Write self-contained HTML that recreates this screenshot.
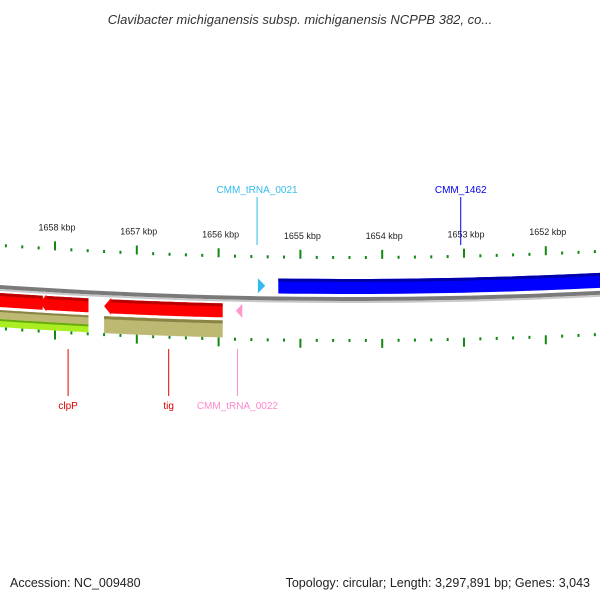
<!DOCTYPE html>
<html><head><meta charset="utf-8"><style>
body{margin:0;background:#fff;width:600px;height:600px;overflow:hidden}
svg{display:block;font-family:"Liberation Sans",sans-serif}
</style></head><body>
<svg id="map" width="600" height="600" viewBox="0 0 600 600">
<text x="300" y="24" text-anchor="middle" font-size="13" font-style="italic" fill="#333">Clavibacter michiganensis subsp. michiganensis NCPPB 382, co...</text>
<text x="10" y="587" font-size="12.5" fill="#222">Accession: NC_009480</text>
<text x="590" y="587" text-anchor="end" font-size="12.5" fill="#222">Topology: circular; Length: 3,297,891 bp; Genes: 3,043</text>
</svg>
<script>
// data
const tickKbp=[1659,1658,1657,1656,1655,1654,1653,1652,1651];
const tickLabels=["1659 kbp","1658 kbp","1657 kbp","1656 kbp","1655 kbp","1654 kbp","1653 kbp","1652 kbp","1651 kbp"];
const geneNames=["CMM_1462","CMM_tRNA_0021","CMM_tRNA_0022","tig","clpP","gene-left"];
const geneStart=[1655.27,1655.52,1655.79,1657.40,1658.19,1659.2];
const geneEnd=[1649.5,1655.43,1655.71,1655.95,1657.59,1658.15];
const geneStrand=[1,1,-1,-1,-1,-1];
const geneColor=["#0000ff","#33bbee","#ff99cc","#ff0000","#ff0000","#ff0000"];
const geneTop=["#0000aa","#1188bb","#ee77aa","#bb0000","#bb0000","#bb0000"];
const cdsStart=[1657.40,1658.19,1659.2];
const cdsEnd=[1655.95,1657.59,1658.15];
const cdsLime=[false,true,true];
const labelNames=["CMM_tRNA_0021","CMM_1462","clpP","tig","CMM_tRNA_0022"];
const labelKbp=[1655.53,1653.04,1657.84,1656.61,1655.77];
const labelColor=["#33bbee","#0000ee","#dd0000","#dd0000","#ff88cc"];
const labelSide=[-1,-1,1,1,1];

const NS="http://www.w3.org/2000/svg",svg=document.getElementById('map');
const cx=350,R=5100,cy=299-R;
function px(k){return 55+(1658-k)*81.8;}
function pt(x,off){const r=R+off;return [x,cy+Math.sqrt(r*r-(x-cx)*(x-cx))];}
function band(x1,x2,o1,o2){let a=[],b=[];const n=30;for(let i=0;i<=n;i++){const x=x1+(x2-x1)*i/n;a.push(pt(x,o1));b.unshift(pt(x,o2));}return a.concat(b);}
function poly(ps,fill,name){const p=document.createElementNS(NS,'polygon');p.setAttribute('points',ps.map(q=>q[0].toFixed(1)+','+q[1].toFixed(1)).join(' '));p.setAttribute('fill',fill);


svg.appendChild(p);return p;}
function line(x1,y1,x2,y2,c,w,name){const l=document.createElementNS(NS,'line');l.setAttribute('x1',x1);l.setAttribute('y1',y1);l.setAttribute('x2',x2);l.setAttribute('y2',y2);l.setAttribute('stroke',c);l.setAttribute('stroke-width',w);


svg.appendChild(l);}
function text(x,y,s,c,fs,name){const t=document.createElementNS(NS,'text');t.setAttribute('x',x);t.setAttribute('y',y);t.setAttribute('text-anchor','middle');t.setAttribute('font-size',fs);t.setAttribute('fill',c);t.textContent=s;


svg.appendChild(t);}

// backbone
poly(band(-20,620,-2,2),"#7a7a7a","backbone");
poly(band(-20,620,2,4),"#c8c8c8","backbone-shadow");

// ticks
tickKbp.forEach((k,i)=>{
  for(let m=0;m<5;m++){
    const x=px(k-m*0.2);if(x<-5||x>605)continue;
    const major=m===0;
    let a=pt(x,major?-49:-43),b=pt(x,-40);line(a[0],a[1],b[0],b[1],"#118811",2,major?"major-tick-outer":"minor-tick-outer");
    a=pt(x,40);b=pt(x,major?49:43);line(a[0],a[1],b[0],b[1],"#118811",2,major?"major-tick-inner":"minor-tick-inner");
  }
  const x=px(k);if(x>10&&x<590){const p=pt(x,-60);text(x+2,p[1],tickLabels[i],"#222",9,"tick-label");}
});

// CDS tracks (khaki / lime)
cdsStart.forEach((s,i)=>{
  const x1=px(s),x2=px(cdsEnd[i]);
  if(cdsLime[i]){poly(band(x1,x2,23,32),"#bdb872","cds-track");poly(band(x1,x2,23,25),"#8a8444","cds-edge");poly(band(x1,x2,32,40),"#aaee22","lime-track");poly(band(x1,x2,32,34),"#66aa11","lime-edge");}
  else{poly(band(x1,x2,23,40),"#bdb872","cds-track");poly(band(x1,x2,23,26),"#8a8444","cds-edge");}
});

// genes
geneStart.forEach((s,i)=>{
  const x1=px(s),x2=px(geneEnd[i]);const fwd=geneStrand[i]>0;
  const o1=fwd?-20:6,o2=fwd?-5:20,mid=(o1+o2)/2;const h=7;
  let body;
  if(x2-x1<12){ // small tRNA triangle
    const base=fwd?x1:x2,tip=fwd?x2:x1;
    poly([pt(base,o1),pt(tip,mid),pt(base,o2)],geneColor[i],"trna-"+geneNames[i]);return;
  }
  if(fwd){const a=band(x1,x2-h,o1,o2);poly(a,geneColor[i],"gene-"+geneNames[i]);poly(band(x1,x2-h,o1,o1+3),geneTop[i],"gene-edge");}
  else{const hx=x1+h;const a=band(hx,x2,o1,o2);const tipPts=[pt(x1,mid)];
    poly(a.slice(0,31).concat(a.slice(31)).concat([pt(hx,o2+1.5),pt(x1,mid),pt(hx,o1-1.5)]),geneColor[i],"gene-"+geneNames[i]);
    poly(band(hx,x2,o1,o1+3),geneTop[i],"gene-edge");}
});

// labels
labelNames.forEach((n,i)=>{
  const x=px(labelKbp[i]);
  if(labelSide[i]<0){line(x,197,x,245,labelColor[i],1,"label-line");text(x,193,n,labelColor[i],10,"gene-label");}
  else{line(x,349,x,396,labelColor[i],1,"label-line");text(x,409,n,labelColor[i],10,"gene-label");}
});
</script>
</body></html>
